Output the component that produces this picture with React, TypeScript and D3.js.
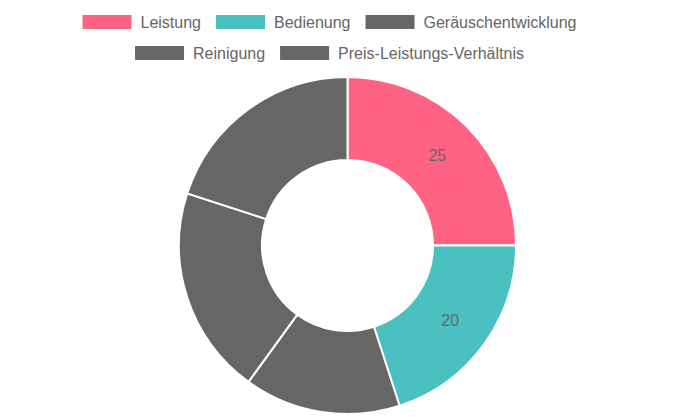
import React, { useRef, useEffect } from "react";
import { select, pie, arc, PieArcDatum } from "d3";

const labels = [
  "Leistung",
  "Bedienung",
  "Geräuschentwicklung",
  "Reinigung",
  "Preis-Leistungs-Verhältnis",
];
const values = [25, 20, 15, 20, 20];
const colors = ["#ff6384", "#4bc0c0", "#666666", "#666666", "#666666"];
const legendRows = [
  [0, 1, 2],
  [3, 4],
];

const W = 695;
const H = 417;
const FONT = "'Liberation Sans', Arial, Helvetica, sans-serif";

const App: React.FC = () => {
  const svgRef = useRef<SVGSVGElement>(null);

  useEffect(() => {
    const svg = select(svgRef.current);
    svg.selectAll("*").remove();

    // legend
    const ctx = document.createElement("canvas").getContext("2d")!;
    ctx.font = `16px ${FONT}`;
    const boxW = 49;
    const boxH = 14;
    const textGap = 9;
    const itemGap = 15;
    const legendCx = 329.5;
    const rowY = [22, 53];

    legendRows.forEach((row, r) => {
      const widths = row.map((i) => boxW + textGap + ctx.measureText(labels[i]).width);
      const total = widths.reduce((a, b) => a + b, 0) + itemGap * (row.length - 1);
      let x = legendCx - total / 2;
      row.forEach((i, k) => {
        const g = svg.append("g");
        g.append("rect")
          .attr("x", x)
          .attr("y", rowY[r] - boxH / 2)
          .attr("width", boxW)
          .attr("height", boxH)
          .attr("fill", colors[i]);
        g.append("text")
          .attr("x", x + boxW + textGap)
          .attr("y", rowY[r])
          .attr("dy", "0.35em")
          .attr("fill", "#666")
          .style("font", `16px ${FONT}`)
          .text(labels[i]);
        x += widths[k] + itemGap;
      });
    });

    // doughnut
    const cx = 347.5;
    const cy = 245.5;
    const outer = 168.5;
    const inner = 85.5;

    const pieGen = pie<number>().sort(null).value((d) => d);
    const arcs = pieGen(values);
    const arcGen = arc<PieArcDatum<number>>().innerRadius(inner).outerRadius(outer);

    const g = svg.append("g").attr("transform", `translate(${cx},${cy})`);
    g.selectAll("path")
      .data(arcs)
      .enter()
      .append("path")
      .attr("d", arcGen)
      .attr("fill", (_, i) => colors[i])
      .attr("stroke", "#fff")
      .attr("stroke-width", 2);

    //data labels
    g.selectAll("text.val")
      .data(arcs)
      .enter()
      .append("text")
      .attr("class", "val")
      .attr("transform", (d) => `translate(${arcGen.centroid(d)})`)
      .attr("text-anchor", "middle")
      .attr("dy", "0.35em")
      .attr("fill", "#666")
      .style("font", `16px ${FONT}`)
      .text((d) => d.data);
  }, []);

  return (
    <svg
      ref={svgRef}
      width={W}
      height={H}
      style={{ position: "absolute", left: 0, top: 0 }}
    ></svg>
  );
};

export default App;
